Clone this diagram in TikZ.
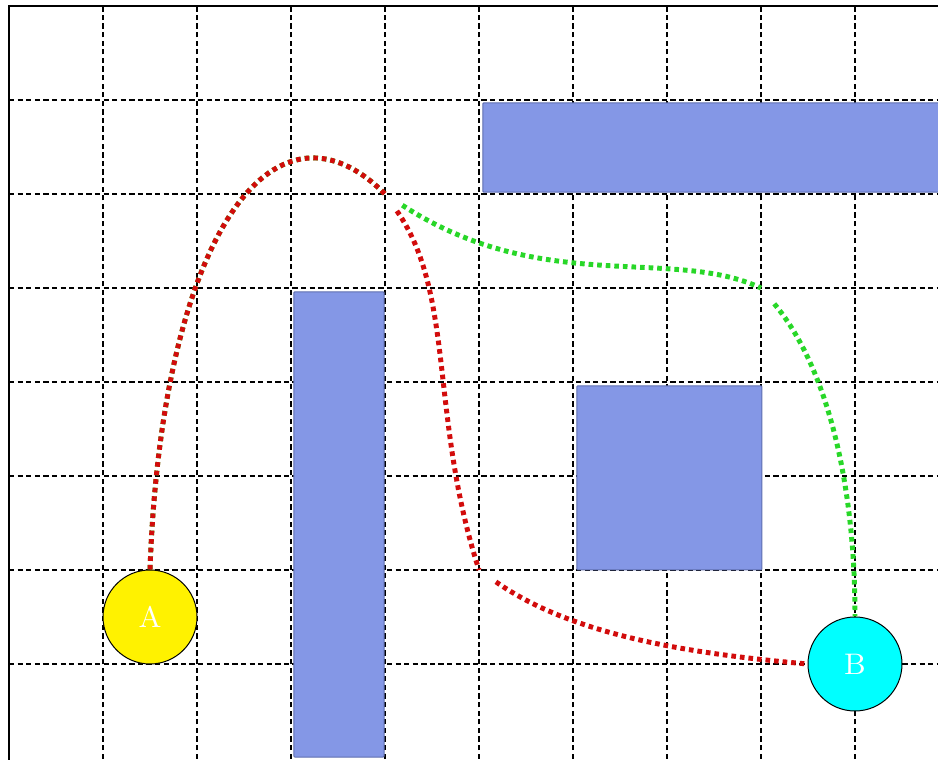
\documentclass[tikz,border=0pt]{standalone}
\usepackage{xcolor}
\definecolor{obstacle}{RGB}{132, 151, 230}
\definecolor{obstacleedge}{RGB}{95, 110, 175}
\definecolor{pathred}{RGB}{210, 12, 12}
\definecolor{pathgreen}{RGB}{40, 215, 40}
\definecolor{goalcyan}{RGB}{0, 255, 255}

\begin{document}
\begin{tikzpicture}[
    gridline/.style={black, line width=0.6pt, dash pattern=on 1.6pt off 1pt},
    obst/.style={fill=obstacle, draw=obstacleedge, line width=0.3pt, rounded corners=0.3pt},
    endpt/.style={circle, draw=black, line width=0.3pt, minimum size=1cm, inner sep=0pt,
      text=white, font=\fontsize{9}{10}\selectfont},
    route/.style={line width=1.5pt, dash pattern=on 1.4pt off 1.2pt},
    fromway/.style={shorten <=2.2mm}
  ]
      \useasboundingbox (-0.096,-0.021) rectangle (9.883,8.064);
      \foreach \x in {1,...,9}
        \draw[gridline] (\x,-0.1) -- (\x,8);
      \foreach \y in {1,...,7}
        \draw[gridline] (0,\y) -- (10,\y);
      \draw[line width=0.7pt] (0,-0.1) -- (0,8) -- (10,8);
      \filldraw[obst] (5.04,6.02) rectangle (10.1,6.97);
      \filldraw[obst] (3.03,0.01) rectangle (3.99,4.96);
      \filldraw[obst] (6.04,2.0) rectangle (8.01,3.96);
      \node[endpt, fill=yellow] (A) at (1.5,1.5) {A};
      \node[endpt, fill=goalcyan] (B) at (9,1) {B};
      \coordinate (w1) at (4,6);
      \coordinate (w2) at (5,2);
      \coordinate (w3) at (8,5);
      \draw[route, pathgreen] (A.north) to[out=88, in=135, out distance=3.5cm, in distance=1.7cm] (w1);
      \draw[route, pathgreen, fromway] (w1) to[out=-33, in=155, out distance=2cm, in distance=1.05cm] (w3);
      \draw[route, pathgreen, fromway] (w3) to[out=-50, in=90, out distance=1.05cm, in distance=1.5cm] (B.north);
      \draw[route, pathred] (A.north) to[out=88, in=135, out distance=3.5cm, in distance=1.7cm] (w1);
      \draw[route, pathred, fromway] (w1) to[out=-55, in=108, out distance=1.3cm, in distance=1.7cm] (w2);
      \draw[route, pathred, fromway] (w2) to[out=-35, in=175, out distance=1.2cm, in distance=1.3cm] (B.west);
    \end{tikzpicture}
\end{document}
